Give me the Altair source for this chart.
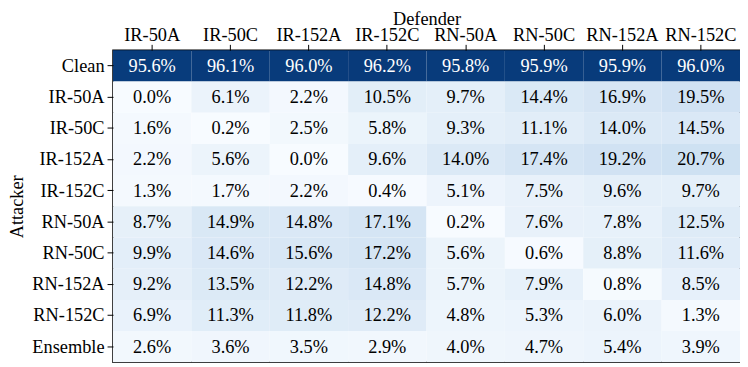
import altair as alt
import pandas as pd

defenders = ["IR-50A", "IR-50C", "IR-152A", "IR-152C", "RN-50A", "RN-50C", "RN-152A", "RN-152C"]
attackers = ["Clean", "IR-50A", "IR-50C", "IR-152A", "IR-152C", "RN-50A", "RN-50C", "RN-152A", "RN-152C", "Ensemble"]

row_clean = [95.6, 96.1, 96.0, 96.2, 95.8, 95.9, 95.9, 96.0]
row_ir50a = [0.0, 6.1, 2.2, 10.5, 9.7, 14.4, 16.9, 19.5]
row_ir50c = [1.6, 0.2, 2.5, 5.8, 9.3, 11.1, 14.0, 14.5]
row_ir152a = [2.2, 5.6, 0.0, 9.6, 14.0, 17.4, 19.2, 20.7]
row_ir152c = [1.3, 1.7, 2.2, 0.4, 5.1, 7.5, 9.6, 9.7]
row_rn50a = [8.7, 14.9, 14.8, 17.1, 0.2, 7.6, 7.8, 12.5]
row_rn50c = [9.9, 14.6, 15.6, 17.2, 5.6, 0.6, 8.8, 11.6]
row_rn152a = [9.2, 13.5, 12.2, 14.8, 5.7, 7.9, 0.8, 8.5]
row_rn152c = [6.9, 11.3, 11.8, 12.2, 4.8, 5.3, 6.0, 1.3]
row_ensemble = [2.6, 3.6, 3.5, 2.9, 4.0, 4.7, 5.4, 3.9]

rows = [row_clean, row_ir50a, row_ir50c, row_ir152a, row_ir152c,
        row_rn50a, row_rn50c, row_rn152a, row_rn152c, row_ensemble]

records = []
for a, vals in zip(attackers, rows):
    for d, v in zip(defenders, vals):
        records.append({"Attacker": a, "Defender": d, "value": v, "label": f"{v:.1f}%"})
df = pd.DataFrame(records)

blues = ["#f7fbff", "#deebf7", "#c6dbef", "#9ecae1", "#6baed6",
         "#4292c6", "#2171b5", "#08519c", "#08306b"]
stops = [i * 100 / 8 for i in range(9)]

FONT = "Liberation Serif, Times New Roman, serif"
FS = 18.5

base = alt.Chart(df).encode(
    x=alt.X("Defender:N", sort=defenders, title="Defender",
            scale=alt.Scale(paddingInner=0, paddingOuter=0),
            axis=alt.Axis(orient="top", labelAngle=0, labelPadding=0, titlePadding=-3,
                          labelFont=FONT, titleFont=FONT)),
    y=alt.Y("Attacker:N", sort=attackers, title="Attacker",
            scale=alt.Scale(paddingInner=0, paddingOuter=0),
            axis=alt.Axis(labelPadding=3, titlePadding=5, labelFont=FONT, titleFont=FONT)),
)

rect = base.mark_rect().encode(
    color=alt.Color("value:Q", scale=alt.Scale(domain=stops, range=blues, interpolate="rgb"), legend=None)
)

text = base.mark_text(font=FONT, fontSize=FS).encode(
    text="label:N",
    color=alt.condition("datum.value > 50", alt.value("white"), alt.value("black")),
)

chart = (
    (rect + text)
    .properties(width=633, height=315, padding=0)
    .configure(font=FONT)
    .configure_view(stroke="black", strokeWidth=1.5)
    .configure_axis(
        domain=False, grid=False, ticks=True, tickSize=6, tickColor="black",
        labelFont=FONT, labelFontSize=FS, labelColor="black",
        titleFont=FONT, titleFontSize=FS, titleFontWeight="normal", titleColor="black",
    )
)

chart.save("out.html", embed_options={"renderer": "svg", "actions": False})
